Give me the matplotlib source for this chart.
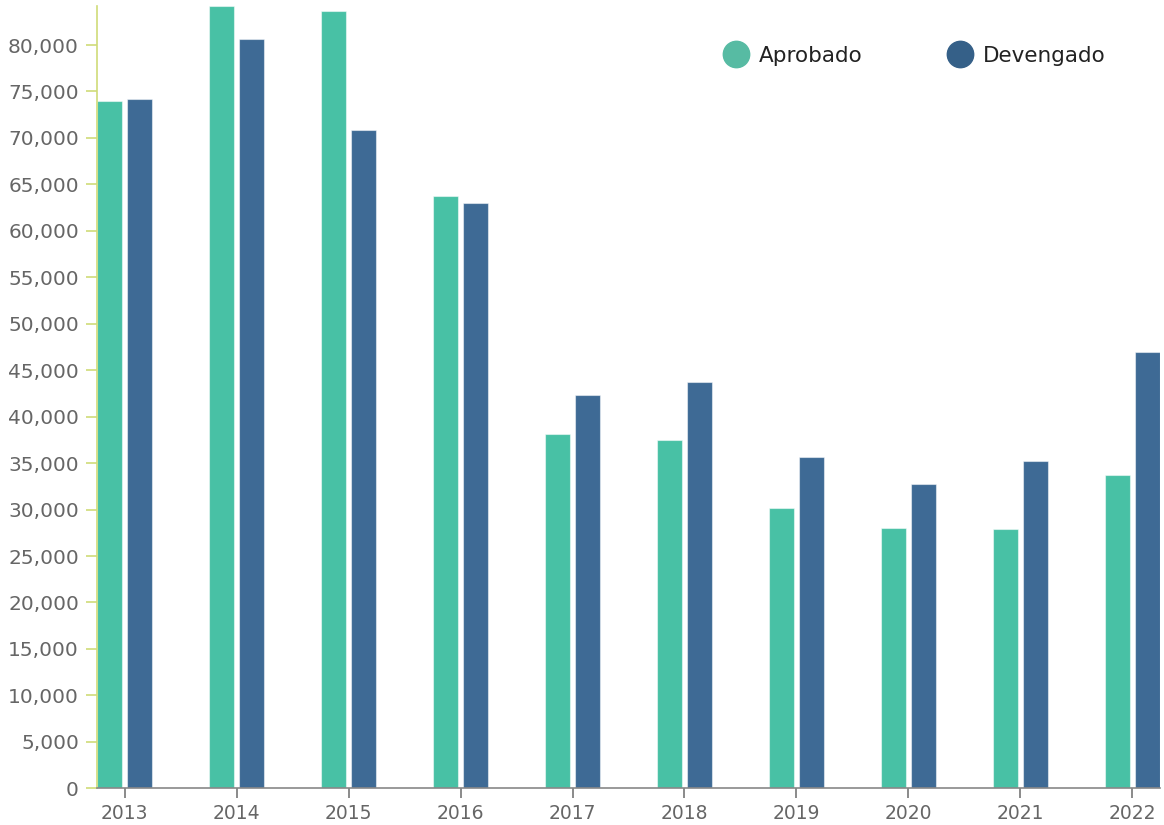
import matplotlib
matplotlib.use("Agg")
import matplotlib.pyplot as plt
from matplotlib.lines import Line2D
import numpy as np

years = ["2013", "2014", "2015", "2016", "2017", "2018", "2019", "2020", "2021", "2022"]
aprobado = [74000, 84200, 83670, 63760, 38140, 37490, 30170, 28020, 27910, 33720]
devengado = [74170, 80690, 70860, 63000, 42340, 43730, 35660, 32760, 35230, 47000]
series_names = ["Aprobado", "Devengado"]
yticks = list(range(0, 80001, 5000))

c_apr = "#48c1a5"
c_dev = "#3e6a95"
leg_apr = "#57bba3"
leg_dev = "#356088"

plt.rcParams["font.family"] = ["DejaVu Sans"]

W, H = 1164, 825
fig = plt.figure(figsize=(W / 100, H / 100), dpi=100)
ax = fig.add_axes([97 / W, 1 - 788.3 / H, (1160 - 97) / W, (788.3 - 6) / H])

x = np.arange(len(years))
bw = 0.228
off = 0.134
ax.bar(x - off, aprobado, width=bw, color=c_apr, edgecolor=(1, 1, 1, 0.5), linewidth=0.8)
ax.bar(x + off, devengado, width=bw, color=c_dev, edgecolor=(1, 1, 1, 0.5), linewidth=0.8)

ax.set_xlim(-0.246, len(years) - 1 + 0.246)
ax.set_ylim(0, max(aprobado + devengado))

ax.set_xticks(x)
ax.set_xticklabels(years)
ax.set_yticks(yticks)
ax.set_yticklabels([f"{v:,}" for v in yticks])

for s in ["top", "right"]:
    ax.spines[s].set_visible(False)
ax.spines["left"].set_color("#cfdc78")
ax.spines["left"].set_linewidth(1.2)
ax.spines["bottom"].set_color("#888888")
ax.spines["bottom"].set_linewidth(1.2)

ax.tick_params(axis="y", length=8, width=1.2, color="#cfdc78", labelsize=14.5, labelcolor="#666666", pad=5)
ax.tick_params(axis="x", length=7, width=1.2, color="#777777", labelsize=13.5, labelcolor="#666666", pad=4)

handles = [
    Line2D([], [], marker="o", linestyle="", markersize=19, markerfacecolor=leg_apr, markeredgecolor=leg_apr),
    Line2D([], [], marker="o", linestyle="", markersize=19, markerfacecolor=leg_dev, markeredgecolor=leg_dev),
]
leg = ax.legend(handles, series_names, ncol=2, frameon=False, fontsize=15.5,
                loc="center", bbox_to_anchor=((914 - 97) / (1160 - 97), 1 - (56 - 6) / (788.3 - 6)),
                handlelength=1.25, handletextpad=0.45, columnspacing=3.9, labelcolor="#222222")

fig.savefig("out.png", dpi=100)
